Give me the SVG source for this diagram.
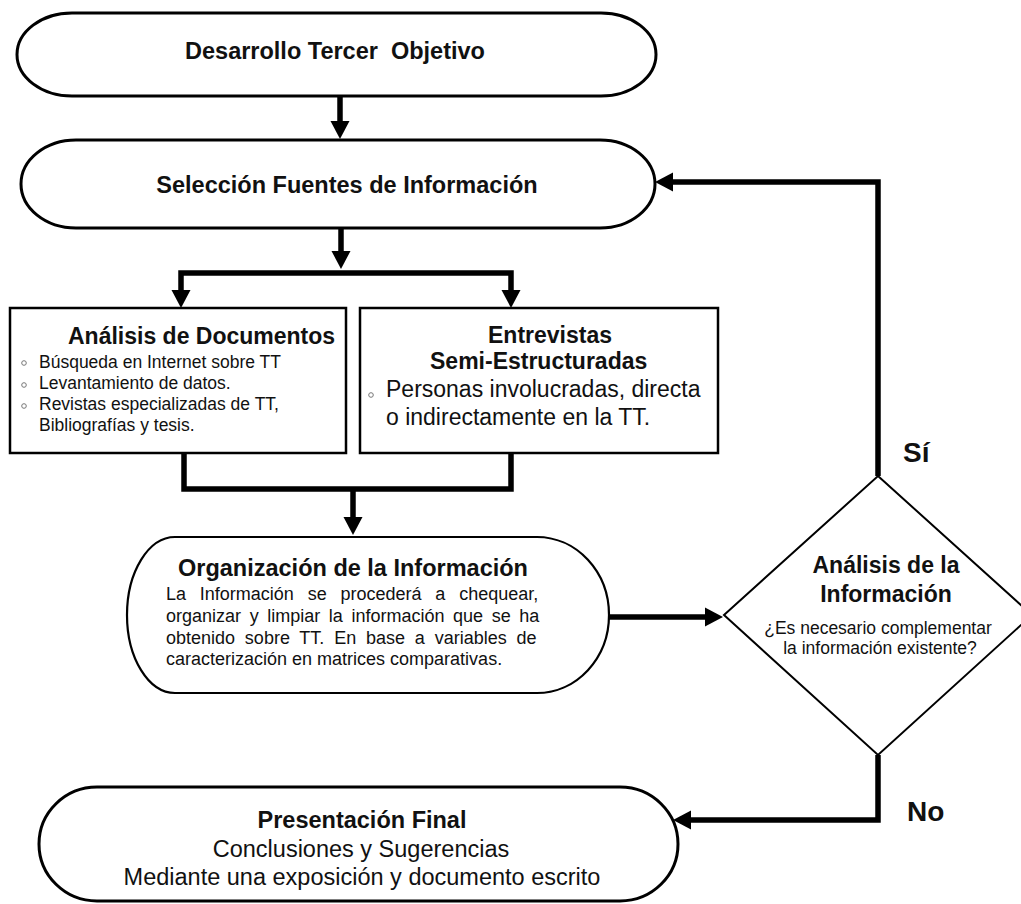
<svg xmlns="http://www.w3.org/2000/svg" width="1021" height="904" viewBox="0 0 1021 904">
<defs>
<style>
.shape{fill:#fff;stroke:#000}
.t{font-family:"Liberation Sans",Arial,sans-serif;fill:#111}
.b{font-weight:bold}
.c{text-anchor:middle}
.conn{fill:none;stroke:#000;stroke-width:5.5;stroke-linejoin:miter}
.bul{fill:#fff;stroke:#777;stroke-width:1}
</style>
<marker id="ah" markerUnits="userSpaceOnUse" markerWidth="19" markerHeight="20" refX="10" refY="9.5" orient="auto" viewBox="0 0 19 19">
<path d="M0,0 L18,9.5 L0,19 Z" fill="#000"/>
</marker>
</defs>
<rect width="1021" height="904" fill="#fff"/>

<g id="connectors">
<path class="conn" d="M340,96 V131" marker-end="url(#ah)"/>
<path class="conn" d="M341,228 V261" marker-end="url(#ah)"/>
<path class="conn" d="M341,273 H181 V300" marker-end="url(#ah)"/>
<path class="conn" d="M341,273 H511 V300" marker-end="url(#ah)"/>
<path class="conn" d="M184,453 V489 H511 V453"/>
<path class="conn" d="M353,489 V527" marker-end="url(#ah)"/>
<path class="conn" d="M609,617 H715" marker-end="url(#ah)"/>
<path class="conn" d="M878,476 V182 H663" marker-end="url(#ah)"/>
<path class="conn" d="M878,755 V820 H681" marker-end="url(#ah)"/>
</g>

<g id="n-inicio">
<rect class="shape" x="17" y="13" width="639" height="83" rx="55" ry="41.5" stroke-width="3"/>
<text class="t b c" x="335" y="59" font-size="23.5" style="white-space:pre">Desarrollo Tercer  Objetivo</text>
</g>

<g id="n-seleccion">
<rect class="shape" x="21" y="140" width="634" height="88" rx="55" ry="44" stroke-width="3"/>
<text class="t b c" x="347" y="193" font-size="23.5">Selección Fuentes de Información</text>
</g>

<g id="n-documentos">
<rect class="shape" x="10" y="308" width="336" height="145" stroke-width="2.5"/>
<text class="t b" x="68" y="344" font-size="23">Análisis de Documentos</text>
<circle class="bul" cx="24" cy="363" r="2.3"/>
<circle class="bul" cx="24" cy="385" r="2.3"/>
<circle class="bul" cx="24" cy="406" r="2.3"/>
<text class="t" font-size="17.5">
<tspan x="39" y="368">Búsqueda en Internet sobre TT</tspan>
<tspan x="39" y="389">Levantamiento de datos.</tspan>
<tspan x="39" y="410">Revistas especializadas de TT,</tspan>
<tspan x="39" y="431">Bibliografías y tesis.</tspan>
</text>
</g>

<g id="n-entrevistas">
<rect class="shape" x="360" y="308" width="358" height="145" stroke-width="2.5"/>
<text class="t b" x="488" y="343" font-size="23">Entrevistas</text>
<text class="t b" x="430" y="369" font-size="23">Semi-Estructuradas</text>
<circle class="bul" cx="371" cy="395" r="2.3"/>
<text class="t" font-size="23">
<tspan x="386" y="397">Personas involucradas, directa</tspan>
<tspan x="386" y="425">o indirectamente en la TT.</tspan>
</text>
</g>

<g id="n-organizacion">
<path class="shape" d="M175,537 H537 A72,78 0 0 1 537,693 H175 A48,78 0 0 1 175,537 Z" stroke-width="2.2"/>
<text class="t b" x="178" y="576" font-size="23.5">Organización de la Información</text>
<text class="t" font-size="18">
<tspan x="166" y="600" word-spacing="8.8">La Información se procederá a chequear,</tspan>
<tspan x="166" y="622" word-spacing="3.6">organizar y limpiar la información que se ha</tspan>
<tspan x="166" y="644" word-spacing="4.8">obtenido sobre TT. En base a variables de</tspan>
<tspan x="166" y="665">caracterización en matrices comparativas.</tspan>
</text>
</g>

<g id="n-analisis">
<polygon class="shape" points="878,476 1032,615 878,755 724,615" stroke-width="2"/>
<text class="t b c" x="886" y="573" font-size="23">Análisis de la</text>
<text class="t b c" x="886" y="602" font-size="23">Información</text>
<text class="t c" x="878" y="634" font-size="17.5">¿Es necesario complementar</text>
<text class="t c" x="880" y="654" font-size="17.5">la información existente?</text>
</g>

<g id="labels">
<text class="t b" x="903" y="462" font-size="28">Sí</text>
<text class="t b" x="907" y="821" font-size="28">No</text>
</g>

<g id="n-presentacion">
<rect class="shape" x="39" y="787" width="639" height="114" rx="58" ry="57" stroke-width="3"/>
<text class="t b c" x="362" y="828" font-size="23.5">Presentación Final</text>
<text class="t c" x="361" y="857" font-size="23.5">Conclusiones y Sugerencias</text>
<text class="t c" x="362" y="885" font-size="23.5">Mediante una exposición y documento escrito</text>
</g>
</svg>
